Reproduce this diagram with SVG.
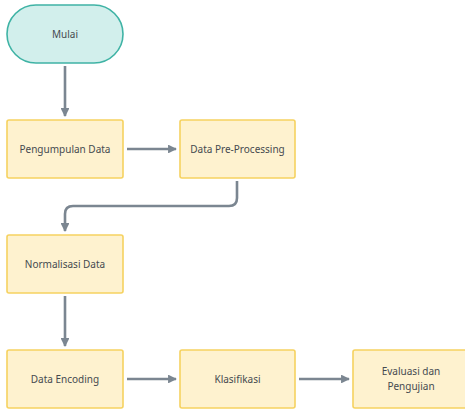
<svg xmlns="http://www.w3.org/2000/svg" width="465" height="409" viewBox="0 0 465 409">
  <defs>
    <marker id="arrow" viewBox="0 0 10 10" refX="9" refY="5" markerWidth="3.4" markerHeight="3.4" orient="auto" markerUnits="strokeWidth">
      <path d="M0,0 L10,5 L0,10 z" fill="#7b8691"/>
    </marker>
    <style>
      .box { fill: #fef2cf; stroke: #f6d260; stroke-width: 1.6; }
      .term { fill: #d2efec; stroke: #3fb3a5; stroke-width: 1.6; }
      .label { font-family: "Noto Sans", "DejaVu Sans", sans-serif; font-size: 10px; fill: #454a4f; text-anchor: middle; dominant-baseline: central; }
      .edge { fill: none; stroke: #7b8691; stroke-width: 2.6; marker-end: url(#arrow); }
    </style>
  </defs>

  <rect width="465" height="409" fill="#ffffff"/>

  <g id="connectors">
    <path class="edge" d="M65,66 V116"/>
    <path class="edge" d="M127,149 H176"/>
    <path class="edge" d="M237,181 V198 Q237,206 229,206 H73 Q65,206 65,214 V231"/>
    <path class="edge" d="M65,296 V346"/>
    <path class="edge" d="M127,379 H176"/>
    <path class="edge" d="M299,379 H349"/>
  </g>

  <g id="mulai">
    <rect class="term" x="7" y="5" width="116" height="58" rx="29" ry="29"/>
    <text class="label" x="65" y="34">Mulai</text>
  </g>

  <g id="pengumpulan-data">
    <rect class="box" x="7" y="120" width="116" height="58" rx="2"/>
    <text class="label" x="65" y="149">Pengumpulan Data</text>
  </g>

  <g id="data-pre-processing">
    <rect class="box" x="180" y="120" width="115" height="58" rx="2"/>
    <text class="label" x="237.5" y="149">Data Pre-Processing</text>
  </g>

  <g id="normalisasi-data">
    <rect class="box" x="7" y="235" width="116" height="58" rx="2"/>
    <text class="label" x="65" y="264">Normalisasi Data</text>
  </g>

  <g id="data-encoding">
    <rect class="box" x="7" y="350" width="116" height="58" rx="2"/>
    <text class="label" x="65" y="379">Data Encoding</text>
  </g>

  <g id="klasifikasi">
    <rect class="box" x="180" y="350" width="115" height="58" rx="2"/>
    <text class="label" x="237.5" y="379">Klasifikasi</text>
  </g>

  <g id="evaluasi-dan-pengujian">
    <rect class="box" x="353" y="350" width="116" height="58" rx="2"/>
    <text class="label" x="411" y="371">Evaluasi dan</text>
    <text class="label" x="411" y="386">Pengujian</text>
  </g>
</svg>
